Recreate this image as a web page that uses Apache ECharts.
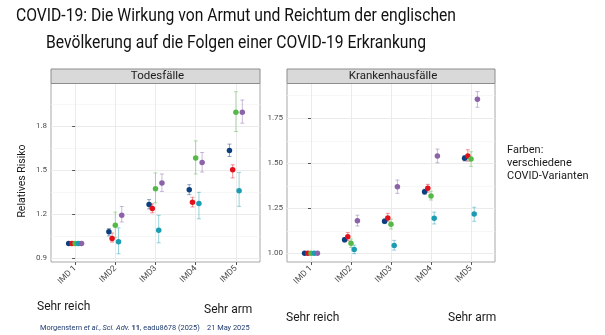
<!DOCTYPE html>
<html><head><meta charset="utf-8">
<script src="https://cdn.jsdelivr.net/npm/echarts@6/dist/echarts.min.js"></script>
<style>html,body{margin:0;padding:0;background:#fff}#c{width:605px;height:335px}</style>
</head><body><div id="c"></div>
<script>
// ---------- data ----------
const categories = ['IMD 1', 'IMD2', 'IMD3', 'IMD4', 'IMD5'];
const variantNames = ['Variante 1', 'Variante 2', 'Variante 3', 'Variante 4', 'Variante 5'];
const variantColors = ['#0b3f7f', '#e3101b', '#56b848', '#1a9cb3', '#8c63a8'];

// Todesfälle (rows = variants, columns = IMD1..IMD5)
const deathEst = [
  [1.00, 1.080, 1.266, 1.368, 1.635],
  [1.00, 1.035, 1.239, 1.282, 1.504],
  [1.00, 1.125, 1.375, 1.584, 1.897],
  [1.00, 1.012, 1.091, 1.273, 1.361],
  [1.00, 1.193, 1.414, 1.554, 1.897]
];
const deathLow = [
  [1.00, 1.052, 1.237, 1.334, 1.595],
  [1.00, 1.010, 1.210, 1.250, 1.448],
  [1.00, 1.041, 1.278, 1.475, 1.765],
  [1.00, 0.930, 1.005, 1.169, 1.254],
  [1.00, 1.147, 1.356, 1.488, 1.822]
];
const deathHigh = [
  [1.00, 1.102, 1.300, 1.402, 1.679],
  [1.00, 1.072, 1.271, 1.316, 1.538],
  [1.00, 1.215, 1.482, 1.701, 2.037],
  [1.00, 1.107, 1.193, 1.350, 1.486],
  [1.00, 1.253, 1.475, 1.622, 1.980]
];

// Krankenhausfälle
const hospEst = [
  [1.00, 1.075, 1.178, 1.342, 1.528],
  [1.00, 1.092, 1.196, 1.361, 1.541],
  [1.00, 1.056, 1.162, 1.318, 1.524],
  [1.00, 1.022, 1.044, 1.195, 1.218],
  [1.00, 1.181, 1.370, 1.541, 1.856]
];
const hospLow = [
  [1.00, 1.063, 1.165, 1.328, 1.513],
  [1.00, 1.070, 1.178, 1.340, 1.512],
  [1.00, 1.033, 1.135, 1.296, 1.483],
  [1.00, 0.998, 1.018, 1.163, 1.178],
  [1.00, 1.152, 1.333, 1.503, 1.811]
];
const hospHigh = [
  [1.00, 1.087, 1.191, 1.356, 1.543],
  [1.00, 1.115, 1.222, 1.383, 1.575],
  [1.00, 1.080, 1.190, 1.345, 1.564],
  [1.00, 1.046, 1.072, 1.229, 1.256],
  [1.00, 1.212, 1.407, 1.579, 1.898]
];

// tick labels
const deathTicks = [0.9, 1.2, 1.5, 1.8];
const deathMinor = [1.05, 1.35, 1.65, 1.95];
const hospTicks = [1.00, 1.25, 1.50, 1.75];
const hospMinor = [1.125, 1.375, 1.625, 1.875];
const xTicks = [0, 1, 2, 3, 4];

const titleLines = ['COVID-19: Die Wirkung von Armut und Reichtum der englischen',
                    'Bevölkerung auf die Folgen einer COVID-19 Erkrankung'];

// ---------- layout ----------
const dodgeWidth = 0.4;
const nVar = variantNames.length;
const dodge = k => (k - (nVar - 1) / 2) * dodgeWidth / nVar;

const panels = [
  { title: 'Todesfälle', est: deathEst, low: deathLow, high: deathHigh,
    yMin: 0.874, yMax: 2.093, major: deathTicks, minor: deathMinor, dec: 1,
    left: 51, width: 209 },
  { title: 'Krankenhausfälle', est: hospEst, low: hospLow, high: hospHigh,
    yMin: 0.952, yMax: 1.943, major: hospTicks, minor: hospMinor, dec: 2,
    left: 287, width: 208 }
];
const gridTop = 83.5, gridHeight = 178.5;
const baseFont = 'Roboto, "Liberation Sans", sans-serif';

const grids = [], xAxes = [], yAxes = [], series = [], graphics = [];

panels.forEach((p, pi) => {
  grids.push({ left: p.left, top: gridTop, width: p.width, height: gridHeight,
    show: true, borderColor: '#a8a8a8', borderWidth: 1, backgroundColor: '#fff' });
  xAxes.push({
    type: 'value', gridIndex: pi, min: -0.6, max: 4.6,
    axisLine: { show: false },
    axisTick: { show: true, customValues: xTicks, length: 3, lineStyle: { color: '#555' } },
    axisLabel: { customValues: xTicks, rotate: 45, margin: 5, fontSize: 8.5, color: '#4d4d4d',
      fontFamily: baseFont, formatter: v => categories[Math.round(v)] },
    splitLine: { show: true, lineStyle: { color: '#ebebeb', width: 1 } }
  });
  yAxes.push({
    type: 'value', gridIndex: pi, min: p.yMin, max: p.yMax, position: 'left',
    axisLine: { show: false },
    axisTick: { show: true, customValues: p.major, length: 3, lineStyle: { color: '#555' } },
    axisLabel: { customValues: p.major, margin: 4, fontSize: 8, color: '#4d4d4d',
      fontFamily: baseFont, formatter: v => v.toFixed(p.dec) },
    splitLine: { show: true, lineStyle: { color: '#ebebeb', width: 1 } }
  });
  graphics.push({ type: 'rect', shape: { x: p.left, y: 69, width: p.width, height: 14.5 },
    style: { fill: '#d9d9d9', stroke: '#8c8c8c', lineWidth: 1 }, z: 10 });
  graphics.push({ type: 'text', x: p.left + p.width / 2 + 2, y: 76.5, z: 11,
    style: { text: p.title, fontSize: 11.5, fontFamily: baseFont, fill: '#1a1a1a',
      align: 'center', verticalAlign: 'middle' } });
});
panels.forEach((p, pi) => {
  yAxes.push({
    type: 'value', gridIndex: pi, min: p.yMin, max: p.yMax, position: 'left',
    axisLine: { show: false },
    axisTick: { show: false, customValues: p.minor },
    axisLabel: { show: false, customValues: p.minor },
    splitLine: { show: true, lineStyle: { color: '#f3f3f3', width: 0.7 } }
  });
});

panels.forEach((p, pi) => {
  variantNames.forEach((name, k) => {
    const col = variantColors[k];
    const errData = categories.map((c, i) => [i + dodge(k), p.low[k][i], p.high[k][i]]);
    series.push({
      type: 'custom', name: name, xAxisIndex: pi, yAxisIndex: pi, z: 2,
      encode: { x: 0, y: [1, 2] },
      data: errData,
      renderItem: (params, api) => {
        const x = api.value(0);
        const a = api.coord([x, api.value(1)]);
        const b = api.coord([x, api.value(2)]);
        const hw = 2;
        const st = { stroke: col, lineWidth: 1, opacity: 0.45 };
        return { type: 'group', children: [
          { type: 'line', shape: { x1: a[0], y1: a[1], x2: b[0], y2: b[1] }, style: st },
          { type: 'line', shape: { x1: a[0] - hw, y1: a[1], x2: a[0] + hw, y2: a[1] }, style: st },
          { type: 'line', shape: { x1: b[0] - hw, y1: b[1], x2: b[0] + hw, y2: b[1] }, style: st }
        ] };
      }
    });
    series.push({
      type: 'scatter', name: name, xAxisIndex: pi, yAxisIndex: pi, z: 3,
      symbol: 'circle', symbolSize: 5.5, itemStyle: { color: col, opacity: 1 },
      data: categories.map((c, i) => [i + dodge(k), p.est[k][i]])
    });
  });
});

// title: Roboto, horizontally condensed to match the narrow slide font
const titleFont = '18px Roboto';
const ctx = document.createElement('canvas').getContext('2d');
ctx.font = titleFont;
const titleScale = 440 / ctx.measureText(titleLines[0]).width;
[16.5, 43].forEach((y, li) => {
  graphics.push({ type: 'text', x: 236, y: y, scaleX: titleScale,
    style: { text: titleLines[li], fontSize: 18, fontFamily: 'Roboto', fill: '#111',
      align: 'center', verticalAlign: 'middle' } });
});

graphics.push(
  { type: 'text', x: 22, y: 181, rotation: Math.PI / 2,
    style: { text: 'Relatives Risiko', fontSize: 10.5, fontFamily: baseFont, fill: '#1a1a1a',
      align: 'center', verticalAlign: 'middle' } },
  { type: 'text', x: 37, y: 307,
    style: { text: 'Sehr reich', fontSize: 12, fontFamily: baseFont, fill: '#1a1a1a', verticalAlign: 'middle' } },
  { type: 'text', x: 204, y: 309.5,
    style: { text: 'Sehr arm', fontSize: 12, fontFamily: baseFont, fill: '#1a1a1a', verticalAlign: 'middle' } },
  { type: 'text', x: 286, y: 318,
    style: { text: 'Sehr reich', fontSize: 12, fontFamily: baseFont, fill: '#1a1a1a', verticalAlign: 'middle' } },
  { type: 'text', x: 448, y: 318,
    style: { text: 'Sehr arm', fontSize: 12, fontFamily: baseFont, fill: '#1a1a1a', verticalAlign: 'middle' } },
  { type: 'text', x: 507, y: 144,
    style: { text: 'Farben:\nverschiedene\nCOVID-Varianten', fontSize: 11, lineHeight: 13,
      fontFamily: baseFont, fill: '#1a1a1a', verticalAlign: 'top' } },
  { type: 'text', x: 40, y: 328.5,
    style: {
      text: '{n|Morgenstern }{i|et al.}{n|, }{i|Sci. Adv.}{n| }{b|11}{n|, eadu8678 (2025)    21 May 2025}',
      verticalAlign: 'middle',
      rich: {
        n: { fontSize: 7.4, fontFamily: baseFont, fill: '#1f3a6e' },
        i: { fontSize: 7.4, fontFamily: baseFont, fill: '#1f3a6e', fontStyle: 'italic' },
        b: { fontSize: 7.4, fontFamily: baseFont, fill: '#1f3a6e', fontWeight: 'bold' }
      }
    } }
);

const chart = echarts.init(document.getElementById('c'), null, { renderer: 'canvas' });
chart.setOption({
  animation: false,
  backgroundColor: '#fff',
  grid: grids, xAxis: xAxes, yAxis: yAxes, series: series, graphic: graphics
});
</script></body></html>
